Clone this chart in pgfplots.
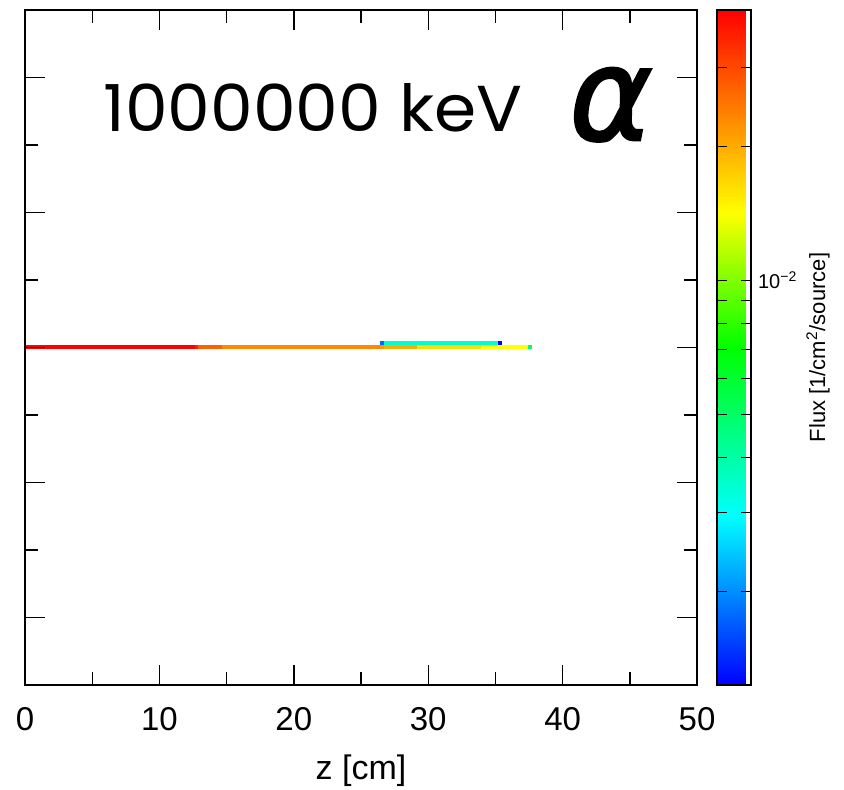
\documentclass[border=0pt]{standalone}
\usepackage{fontspec}
\setmainfont{Liberation Sans}
\newfontfamily\titlefont{Poppins}
\newfontfamily\alphafont{DejaVu Sans}[ItalicFeatures={FakeBold=2}]
\usepackage{graphicx}
\usepackage{pgfplots}
\pgfplotsset{compat=1.18}
\pgfplotsset{colormap={phits}{rgb255(0pt)=(0,0,255) rgb255(25pt)=(0,255,255) rgb255(50pt)=(0,255,0) rgb255(70pt)=(255,255,0) rgb255(100pt)=(255,0,0)}}
% cells: zstart zend r g b
\newcommand\cellA[5]{\addplot[draw=none, fill={rgb,255:red,#3;green,#4;blue,#5}, forget plot] coordinates {(#1,-0.022) (#2,-0.022) (#2,0.037) (#1,0.037)} -- cycle;}
\newcommand\cellB[5]{\addplot[draw=none, fill={rgb,255:red,#3;green,#4;blue,#5}, forget plot] coordinates {(#1,0.037) (#2,0.037) (#2,0.096) (#1,0.096)} -- cycle;}
\begin{document}
\begin{tikzpicture}
\useasboundingbox (0,0) rectangle (422pt,395pt);
\begin{axis}[
  at={(12.5pt,52.5pt)}, anchor=south west,
  scale only axis, width=336pt, height=337.5pt,
  xmin=0, xmax=50, ymin=-5, ymax=5,
  xtick={0,10,...,50}, minor xtick={5,15,...,45},
  ytick={-4,-2,...,4}, minor ytick={-3,-1,1,3}, yticklabels={},
  tick align=inside, major tick length=10pt, minor tick length=6.5pt,
  every tick/.style={black, line width=0.7pt},
  axis line style={line width=1pt},
  axis on top,
  /pgf/number format/assume math mode=true,
  xticklabel style={font=\fontsize{16.5}{16.5}\selectfont, yshift=-7.5pt},
  xlabel={z [cm]},
  xlabel style={font=\fontsize{17}{17}\selectfont, at={(rel axis cs:0.5,0)}, anchor=base, yshift=-47pt},
  colorbar,
  colormap name=phits,
  point meta min=0.00123, point meta max=0.0405,
  colorbar shift/.style={xshift=-2.5pt},
  colorbar style={
    ymode=log, width=17pt,
    ymin=0.00123, ymax=0.0405,
    ytick={0.01}, yticklabels={10\textsuperscript{−2}},
    minor ytick={0.002,0.003,0.004,0.005,0.006,0.007,0.008,0.009,0.02,0.03},
    ytick pos=both, yticklabel pos=right,
    tick align=inside, major tick length=5pt, minor tick length=5pt,
    every tick/.style={black, line width=0.5pt},
    axis line style={line width=1pt},
    /pgf/number format/assume math mode=true,
    yticklabel style={font=\fontsize{10}{10}\selectfont},
    ylabel={Flux [1/cm\textsuperscript{2}/source]},
    every axis y label/.style={at={(rel axis cs:1,0.5)}, xshift=33.5pt, rotate=90, anchor=center, font=\fontsize{11}{11}\selectfont},
  },
]
\cellA{0}{12.65}{255}{0}{0}
\cellA{12.65}{12.87}{255}{30}{0}
\cellA{12.87}{14.66}{255}{96}{0}
\cellA{14.66}{26.41}{255}{136}{0}
\cellA{26.41}{26.71}{255}{152}{0}
\cellA{26.71}{29.17}{255}{172}{0}
\cellA{29.17}{33.93}{255}{224}{0}
\cellA{33.93}{37.43}{255}{255}{0}
\cellA{37.43}{37.72}{0}{255}{102}
\cellB{26.41}{26.71}{0}{102}{255}
\cellB{26.71}{35.19}{0}{255}{204}
\cellB{35.19}{35.49}{0}{0}{255}
\node[anchor=base west, inner sep=0pt] at (axis cs:5.80,3.207) {\resizebox{209.5pt}{24pt}{\titlefont 1000000 keV}};
\node[anchor=south west, inner sep=0pt] at (axis cs:40.48,3.044) {\resizebox*{41.5pt}{37pt}{\alphafont\itshape α}};
\end{axis}
\end{tikzpicture}
\end{document}
